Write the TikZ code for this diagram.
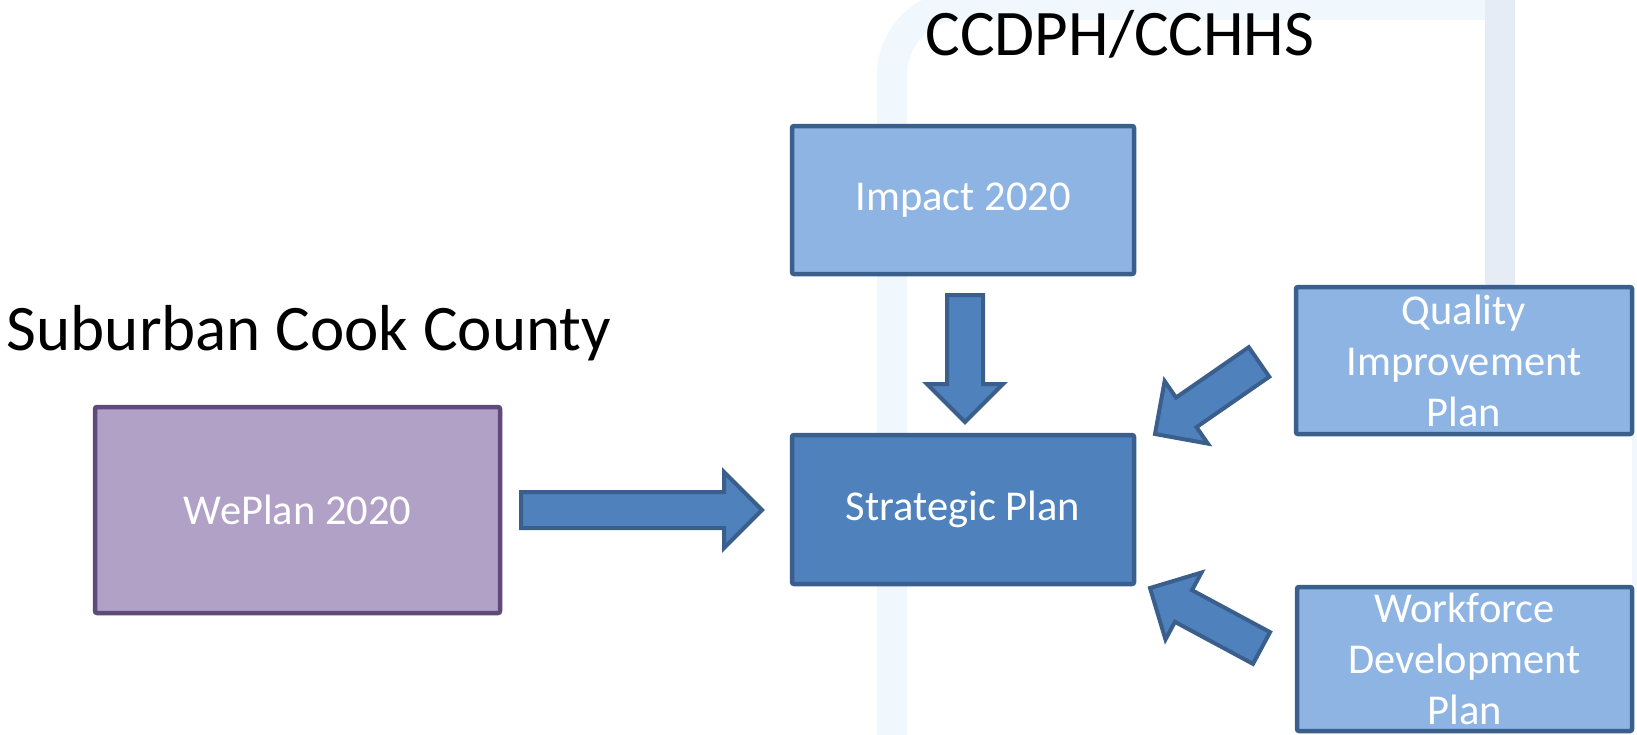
\documentclass[tikz,border=0pt]{standalone}
\usepackage{fontspec}
\setmainfont{Carlito}
\usepackage{tikz}
\usetikzlibrary{calc,positioning}

\definecolor{darkfill}{HTML}{4F81BD}
\definecolor{lightfill}{HTML}{8EB4E3}
\definecolor{blueline}{HTML}{3A5F8C}
\definecolor{purplefill}{HTML}{B2A1C7}
\definecolor{purpleline}{HTML}{604A7B}
\definecolor{bandblue}{HTML}{F0F8FE}
\definecolor{bandgray}{HTML}{E5ECF6}

\tikzset{
  planbox/.style={draw=blueline, line width=4.5pt, rounded corners=2pt,
    text=white, font=\fontsize{42.5}{51}\selectfont, align=center,
    inner sep=0pt},
  flowarrow/.style={draw=blueline, fill=darkfill, line width=4pt, line join=miter},
  heading/.style={font=\fontsize{65}{78}\selectfont, text=black, anchor=base}
}

% block arrow from tail #1 to tip #2
\newcommand{\flowarrow}[2]{%
  \coordinate (#1-hb) at ($(#2)!38pt!(#1)$);
  \draw[flowarrow] ($(#1)!18pt!90:(#2)$) -- ($(#1-hb)!18pt!90:(#2)$)
    -- ($(#1-hb)!38pt!90:(#2)$) -- (#2) -- ($(#1-hb)!38pt!-90:(#2)$)
    -- ($(#1-hb)!18pt!-90:(#2)$) -- ($(#1)!18pt!-90:(#2)$) -- cycle;
}
\newcommand{\lowtext}[1]{\raisebox{-4pt}{#1}}

\begin{document}
\begin{tikzpicture}[x=1pt, y=-1pt]
    \useasboundingbox (0,0) rectangle (1637,734);

    % faint frame behind the plans
    \draw[bandblue, line width=30pt, rounded corners=70pt] (892,760) -- (892,5) -- (1500,5);
    \fill[bandgray] (1485,0) rectangle (1515,285);
    \fill[bandblue] (1632,436) rectangle (1640,585);

    \node[heading] (ccdph) at (1120,55) {CCDPH/CCHHS};
    \node[heading] (suburb) at (309,350) {Suburban Cook County};

    \node [planbox, fill=lightfill, minimum width=342pt, minimum height=148pt] (impact) at (963,200) {\lowtext{Impact 2020}};
    \node [planbox, fill=darkfill, minimum width=342pt, minimum height=149pt] (strategic) at (963,509.5) {\lowtext{Strategic Plan}};
    \node [planbox, draw=purpleline, fill=purplefill, minimum width=405pt, minimum height=206pt] (weplan) at (297.5,510) {\lowtext{WePlan 2020}};
    \node [planbox, fill=lightfill, minimum width=336pt, minimum height=147pt] (quality) at (1464,360.5) {Quality\\Improvement\\Plan};
    \node [planbox, fill=lightfill, minimum width=335pt, minimum height=144pt] (workforce) at (1464.5,659) {Workforce\\Development\\Plan};

    \coordinate (weTail) at (521,510);
    \coordinate (weTip) at (762,510);
    \coordinate (imTail) at (965,295);
    \coordinate (imTip) at (965,422);
    \coordinate (quTail) at (1259,362);
    \coordinate (quTip) at (1155,434);
    \coordinate (woTail) at (1261.5,648);
    \coordinate (woTip) at (1150,588);

    \flowarrow{weTail}{weTip}
    \flowarrow{imTail}{imTip}
    \flowarrow{quTail}{quTip}
    \flowarrow{woTail}{woTip}

\end{tikzpicture}
\end{document}
